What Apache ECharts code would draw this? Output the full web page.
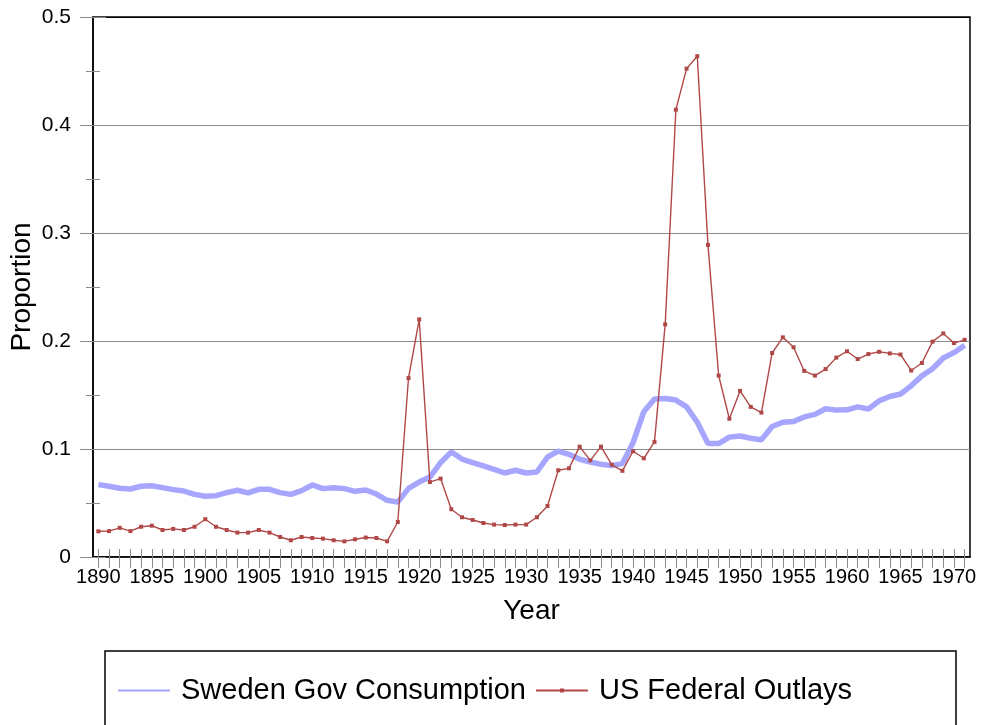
<!DOCTYPE html>
<html>
<head>
<meta charset="utf-8">
<script src="https://cdn.jsdelivr.net/npm/echarts@6/dist/echarts.min.js"></script>
<style>
  html, body { margin: 0; padding: 0; background: #fff; }
  #chart { width: 981px; height: 725px; }
</style>
</head>
<body>
<div id="chart"></div>
<script>
const years = [
  '1890', '1891', '1892', '1893', '1894', '1895', '1896', '1897', '1898', '1899',
  '1900', '1901', '1902', '1903', '1904', '1905', '1906', '1907', '1908', '1909',
  '1910', '1911', '1912', '1913', '1914', '1915', '1916', '1917', '1918', '1919',
  '1920', '1921', '1922', '1923', '1924', '1925', '1926', '1927', '1928', '1929',
  '1930', '1931', '1932', '1933', '1934', '1935', '1936', '1937', '1938', '1939',
  '1940', '1941', '1942', '1943', '1944', '1945', '1946', '1947', '1948', '1949',
  '1950', '1951', '1952', '1953', '1954', '1955', '1956', '1957', '1958', '1959',
  '1960', '1961', '1962', '1963', '1964', '1965', '1966', '1967', '1968', '1969',
  '1970', '1971'
]

const swedenGov = [
  0.067, 0.0655, 0.0636, 0.063, 0.0655, 0.066, 0.0642, 0.0624, 0.0611, 0.058,
  0.0562, 0.0568, 0.0596, 0.0618, 0.0593, 0.0627, 0.0627, 0.0596, 0.058, 0.0615,
  0.0667, 0.0633, 0.0642, 0.0633, 0.0608, 0.062, 0.0583, 0.0525, 0.0508, 0.0635,
  0.0694, 0.074, 0.0874, 0.0972, 0.0907, 0.0874, 0.0843, 0.0812, 0.0778, 0.0803,
  0.0778, 0.0787, 0.0926, 0.0981, 0.0951, 0.0905, 0.088, 0.0858, 0.0846, 0.0865,
  0.106, 0.1345, 0.1463, 0.1468, 0.1453, 0.139, 0.1248, 0.105, 0.105, 0.111,
  0.112, 0.11, 0.1086, 0.1208, 0.1248, 0.1254, 0.1297, 0.132, 0.1373, 0.136,
  0.1363, 0.139, 0.137, 0.1446, 0.1486, 0.1509, 0.1585, 0.1677, 0.1743, 0.1842,
  0.1892, 0.1961
]

const usOutlays = [
  0.0238, 0.024, 0.027, 0.024, 0.028, 0.029, 0.025, 0.026, 0.025, 0.028,
  0.035, 0.028, 0.025, 0.0226, 0.0226, 0.025, 0.0226, 0.0185, 0.0155, 0.0185,
  0.0176, 0.017, 0.0155, 0.0145, 0.0164, 0.018, 0.0176, 0.0145, 0.0324, 0.1657,
  0.22, 0.0694, 0.0726, 0.0442, 0.0368, 0.0343, 0.0315, 0.03, 0.0296, 0.03,
  0.03, 0.0368, 0.0472, 0.0803, 0.0821, 0.1022, 0.0895, 0.1022, 0.0855, 0.0798,
  0.0979, 0.0914, 0.1066, 0.2154, 0.4142, 0.4522, 0.4637, 0.289, 0.168, 0.128,
  0.1538, 0.139, 0.1337, 0.1889, 0.2034, 0.1942, 0.1723, 0.168, 0.174, 0.1846,
  0.1905, 0.1833, 0.1879, 0.19, 0.1885, 0.1875, 0.1727, 0.1796, 0.1994, 0.207,
  0.1981, 0.2011
]

const yMin = 0
const yMax = 0.5
const yStep = 0.1

const font = 'Liberation Sans, Arial, sans-serif'
const gridGray = '#8a8a8a'

const myChart = echarts.init(document.getElementById('chart'))

// ticks cross the axis, so each axis is drawn twice: once outside, once inside
function yAxisBase(inside) {
  return {
    type: 'value',
    position: 'left',
    min: yMin,
    max: yMax,
    interval: yStep,
    axisTick: { show: true, inside, length: 13, lineStyle: { color: gridGray, width: 1 } },
    minorTick: { show: true, splitNumber: 2, length: 7, lineStyle: { color: gridGray, width: 1 } }
  }
}

const option = {
  animation: false,
  backgroundColor: '#fff',
  textStyle: { fontFamily: font, color: '#000' },
  grid: {
    left: 93,
    right: 11,
    top: 17,
    bottom: 168,
    containLabel: false,
    outerBoundsMode: 'none',
    show: true,
    borderColor: '#000',
    borderWidth: 1.5
  },
  xAxis: [
    {
      type: 'category',
      position: 'bottom',
      data: years,
      boundaryGap: true,
      name: 'Year',
      nameLocation: 'middle',
      nameGap: 40,
      nameMoveOverlap: false,
      nameTextStyle: { fontSize: 28, fontFamily: font, color: '#000' },
      axisLine: { show: true, lineStyle: { color: '#000', width: 1.5 } },
      axisTick: { show: true, alignWithLabel: true, interval: 0, length: 11, lineStyle: { color: gridGray } },
      axisLabel: { interval: 4, margin: 10, fontSize: 20, fontFamily: font, color: '#000' },
      splitLine: { show: false }
    },
    {
      type: 'category',
      position: 'bottom',
      data: years,
      boundaryGap: true,
      axisLine: { show: false },
      axisTick: { show: true, inside: true, alignWithLabel: true, interval: 0, length: 8, lineStyle: { color: gridGray } },
      axisLabel: { show: false },
      splitLine: { show: false }
    }
  ],
  yAxis: [
    Object.assign(yAxisBase(false), {
      name: 'Proportion',
      nameLocation: 'middle',
      nameGap: 57,
      nameMoveOverlap: false,
      nameTextStyle: { fontSize: 28, fontFamily: font, color: '#000' },
      axisLine: { show: true, lineStyle: { color: '#000', width: 1.5 } },
      axisLabel: {
        margin: 22,
        fontSize: 21,
        fontFamily: font,
        color: '#000',
        formatter: (v) => (v === 0 ? '0' : v.toFixed(1))
      },
      splitLine: {
        show: true,
        lineStyle: { color: [gridGray, gridGray, gridGray, gridGray, gridGray, '#000'], width: 1.2 }
      }
    }),
    Object.assign(yAxisBase(true), {
      axisLine: { show: false },
      axisLabel: { show: false },
      splitLine: { show: false }
    })
  ],
  legend: {
    left: 105,
    top: 651,
    orient: 'horizontal',
    itemWidth: 52,
    itemHeight: 5,
    itemGap: 9,
    padding: [25, 104, 30, 12],
    borderColor: '#000',
    borderWidth: 1.5,
    textStyle: { fontSize: 29, fontFamily: font, color: '#000', padding: [0, 0, 0, 6] },
    data: [
      { name: 'Sweden Gov Consumption', itemStyle: { opacity: 0 } },
      { name: 'US Federal Outlays' }
    ]
  },
  series: [
    {
      name: 'Sweden Gov Consumption',
      type: 'line',
      xAxisIndex: 0,
      yAxisIndex: 0,
      data: swedenGov,
      symbol: 'none',
      lineStyle: { color: '#a6a6ff', width: 5.5 },
      itemStyle: { color: '#a6a6ff' },
      z: 2
    },
    {
      name: 'US Federal Outlays',
      type: 'line',
      xAxisIndex: 0,
      yAxisIndex: 0,
      data: usOutlays,
      symbol: 'rect',
      symbolSize: 4,
      lineStyle: { color: '#b04848', width: 1.4 },
      itemStyle: { color: '#b04848' },
      z: 3
    }
  ]
}

option && myChart.setOption(option)
</script>
</body>
</html>
